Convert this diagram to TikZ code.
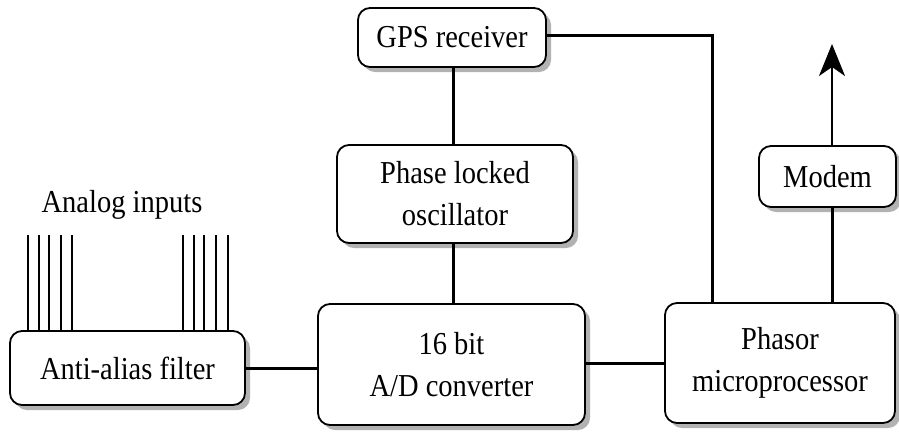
\documentclass[tikz,border=0pt]{standalone}
\usepackage{fontspec}
\setmainfont{Liberation Serif}
\usetikzlibrary{arrows.meta,shadows}
\newcommand\vst[1]{\scalebox{1}[1.12]{#1}}
\begin{document}
\begin{tikzpicture}[x=1pt,y=-1pt,
  blk/.style={draw=black, line width=1.8pt, rounded corners=12pt, fill=white,
    align=center, inner sep=0pt,
    font=\fontsize{28.5}{42}\selectfont,
    drop shadow={shadow xshift=5pt, shadow yshift=-5pt, fill=black!30, opacity=1}},
  conn/.style={line width=3pt},
  inp/.style={line width=2pt}]
\useasboundingbox (0,0) rectangle (899,432);
\node[blk, minimum width=235pt, minimum height=74pt] (aaf) at (127.5,368) {\vst{Anti-alias filter}};
\node[blk, minimum width=188pt, minimum height=59pt] (gps) at (452,37.5) {\vst{GPS receiver}};
\node[blk, minimum width=236pt, minimum height=98pt] (pll) at (455,194) {\vst{Phase locked}\\\vst{oscillator}};
\node[blk, minimum width=267pt, minimum height=121pt] (ad) at (451.5,364.5) {\vst{16 bit}\\\vst{A/D converter}};
\node[blk, minimum width=230pt, minimum height=120pt] (ph) at (780,363) {\vst{Phasor}\\\vst{microprocessor}};
\node[blk, minimum width=137pt, minimum height=61pt] (modem) at (827.5,176.5) {\vst{Modem}};
\node[font=\fontsize{28.5}{34}\selectfont, anchor=base] (lbl) at (122,212) {\vst{Analog inputs}};
\coordinate (top) at (832,44);
\coordinate (gpsc) at (712,35);
\foreach \x [count=\i] in {28,39,49,61,72,183,194,204,216,228}{
  \coordinate (in\i) at (\x,235);
  \draw[inp] (in\i) -- (in\i |- aaf.north);
}
\draw[conn] (aaf.east) -- (aaf.east -| ad.west);
\draw[conn] (ad.east |- 0,363) -- (ph.west |- 0,363);
\draw[conn] (gps.south -| 453,0) -- (pll.north -| 453,0);
\draw[conn] (pll.south -| 453,0) -- (ad.north -| 453,0);
\draw[conn] (gps.east |- gpsc) -- (gpsc) -- (gpsc |- ph.north);
\draw[conn] (modem.south -| top) -- (ph.north -| top);
\draw[line width=2pt, -{Stealth[length=32pt, width=26pt, inset=9pt]}] (modem.north -| top) -- (top);
\end{tikzpicture}
\end{document}
